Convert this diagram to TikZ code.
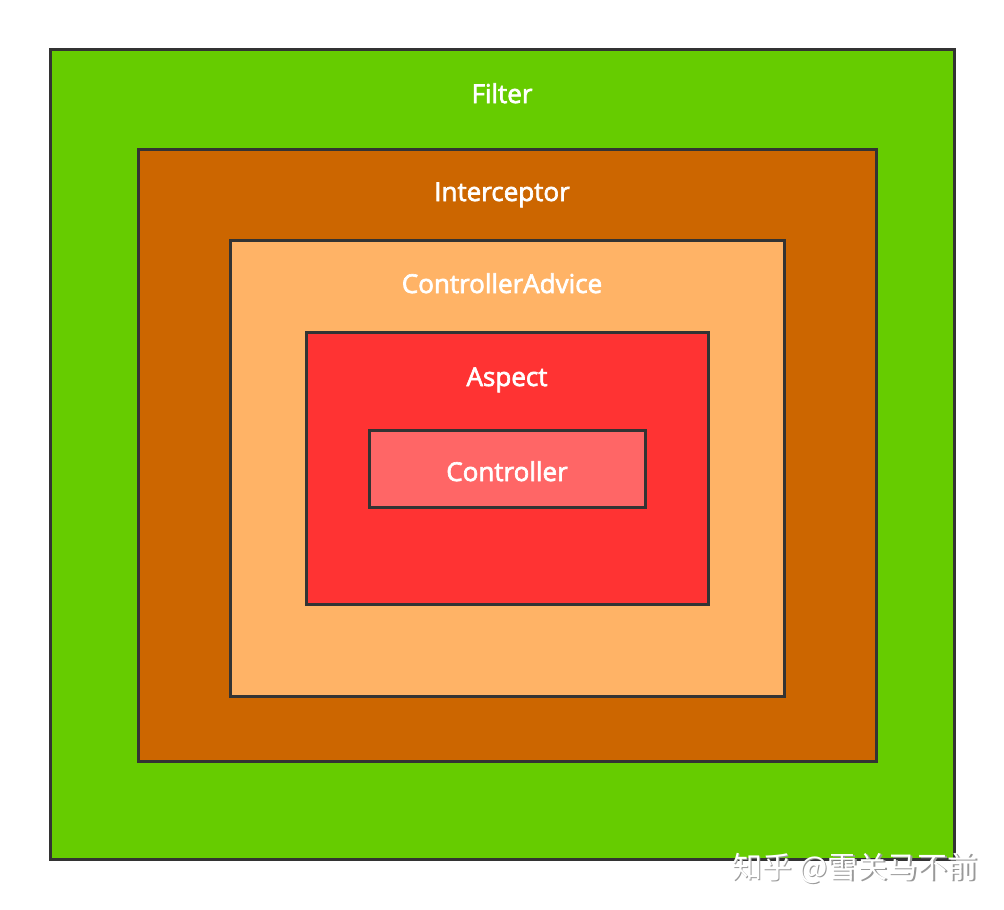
\documentclass[tikz,border=0pt]{standalone}
\usepackage{fontspec}
\setmainfont{Open Sans}
\newfontfamily\lblfont[FakeBold=2.5]{Open Sans}
\newfontfamily\cjk{Noto Sans CJK SC}
\definecolor{filtergreen}{HTML}{66CC00}
\definecolor{interorange}{HTML}{CC6600}
\definecolor{adviceorange}{HTML}{FFB366}
\definecolor{aspectred}{HTML}{FF3333}
\definecolor{ctrlred}{HTML}{FF6666}
\definecolor{edge}{HTML}{333333}
\tikzset{
  layer/.style={draw=edge, line width=3pt},
  lbl/.style={text=white, font=\lblfont\fontsize{26}{30}\selectfont, inner sep=0pt, anchor=base}
}
\begin{document}
\begin{tikzpicture}[x=1pt,y=-1pt]
\useasboundingbox (0,0) rectangle (1004,910);
\fill[white] (0,0) rectangle (1004,910);
\draw[layer, fill=filtergreen] (50,49) rectangle (954,859);
\node[lbl] (filter) at (502,103) {Filter};
\draw[layer, fill=interorange] (138,149) rectangle (876,761);
\node[lbl] (interceptor) at (502,201) {Interceptor};
\draw[layer, fill=adviceorange] (230,240) rectangle (784,696);
\node[lbl] (advice) at (502,293) {ControllerAdvice};
\draw[layer, fill=aspectred] (306,332) rectangle (708,604);
\node[lbl] (aspect) at (507,386) {Aspect};
\draw[layer, fill=ctrlred] (369,430) rectangle (645,507);
\node[lbl] (controller) at (507,481) {Controller};
% watermark
\node[text=gray!80, font=\cjk\fontsize{30}{34}\selectfont, inner sep=0pt] (wmshadow) at (856.5,869.5) {知乎 @雪关马不前};
\node[text=white, font=\cjk\fontsize{30}{34}\selectfont, inner sep=0pt] (wm) at (855,868) {知乎 @雪关马不前};
\end{tikzpicture}
\end{document}
